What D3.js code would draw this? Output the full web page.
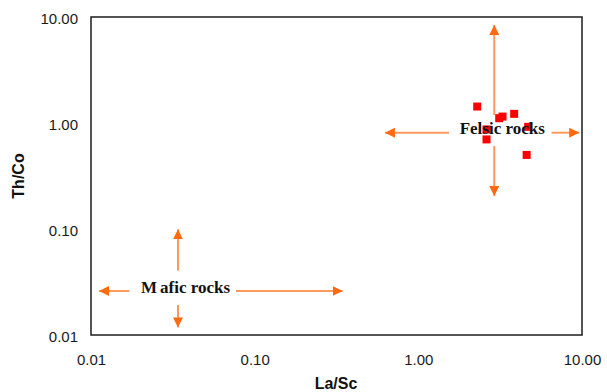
<!DOCTYPE html>
<html>
<head>
<meta charset="utf-8">
<script src="https://cdn.jsdelivr.net/npm/d3@7"></script>
<style>
  html, body { margin: 0; padding: 0; background: #fff; }
  svg { display: block; }
</style>
</head>
<body>
<svg id="chart" width="607" height="392"></svg>
<script>
// ---- data ----
const laSc = [2.29, 3.27, 3.12, 3.85, 2.61, 2.61, 4.59, 4.69];
const thCo = [1.43, 1.15, 1.11, 1.22, 0.87, 0.70, 0.50, 0.92];
const tickValues = [0.01, 0.1, 1, 10];
const tickLabels = ["0.01", "0.10", "1.00", "10.00"];
const fieldLabels = ["Felsic rocks", "Mafic rocks"];
const fieldCentres = [[2.91, 0.81], [0.034, 0.026]];
// arrows [x1, y1, x2(tip), y2(tip)] in data units
const felsicArrows = [
  [2.91, 1.19, 2.91, 8.4],
  [2.91, 0.607, 2.91, 0.205],
  [1.54, 0.81, 0.625, 0.81],
  [6.52, 0.81, 9.61, 0.81]
];
const maficArrows = [
  [0.034, 0.0405, 0.034, 0.0993],
  [0.034, 0.0192, 0.034, 0.0118],
  [0.01714, 0.026, 0.0112, 0.026],
  [0.0769, 0.026, 0.345, 0.026]
];

// ---- layout ----
const svg = d3.select("#chart");
const L = 91, R = 582, T = 17, B = 335;
const x = d3.scaleLog().domain([0.01, 10]).range([L, R]);
const y = d3.scaleLog().domain([0.01, 10]).range([B, T]);

const fmt = d => tickLabels[tickValues.indexOf(d)];

// axes (labels only)
const xAxis = d3.axisBottom(x).tickValues(tickValues).tickFormat(fmt).tickSize(0).tickPadding(0);
const gx = svg.append("g").attr("transform", `translate(0,${B + 19})`).call(xAxis);
gx.select(".domain").remove();
gx.selectAll("text").attr("font-family", "Liberation Sans, Arial, sans-serif")
  .attr("font-size", 15).attr("fill", "#1a1a1a").attr("dy", "0.71em");

const yAxis = d3.axisLeft(y).tickValues(tickValues).tickFormat(fmt).tickSize(0).tickPadding(0);
const gy = svg.append("g").attr("transform", `translate(${L - 13},2)`).call(yAxis);
gy.select(".domain").remove();
gy.selectAll("text").attr("font-family", "Liberation Sans, Arial, sans-serif")
  .attr("font-size", 15).attr("fill", "#1a1a1a");

// axis titles
svg.append("text").attr("x", 336).attr("y", 389).attr("text-anchor", "middle")
  .attr("font-family", "Liberation Sans, Arial, sans-serif").attr("font-weight", "bold")
  .attr("font-size", 16).attr("fill", "#111").text("La/Sc");
svg.append("text").attr("transform", "translate(24,176) rotate(-90)").attr("text-anchor", "middle")
  .attr("font-family", "Liberation Sans, Arial, sans-serif").attr("font-weight", "bold")
  .attr("font-size", 16).attr("fill", "#111").text("Th/Co");

// frame
svg.append("rect").attr("x", L).attr("y", T).attr("width", R - L).attr("height", B - T)
  .attr("fill", "none").attr("stroke", "#2a2a2a").attr("stroke-width", 1.6);

// arrowhead
svg.append("defs").append("marker").attr("id", "ah")
  .attr("viewBox", "0 0 10 10").attr("refX", 10).attr("refY", 5)
  .attr("markerWidth", 10).attr("markerHeight", 10).attr("markerUnits", "userSpaceOnUse")
  .attr("orient", "auto")
  .append("path").attr("d", "M0,0 L10,5 L0,10 Z").attr("fill", "#ff6a10");

const arrows = felsicArrows.concat(maficArrows);
svg.append("g").selectAll("line").data(arrows).join("line")
  .attr("x1", d => x(d[0])).attr("y1", d => y(d[1]))
  .attr("x2", d => x(d[2])).attr("y2", d => y(d[3]))
  .attr("stroke", "#ff9a5c").attr("stroke-width", 2)
  .attr("marker-end", "url(#ah)");

// points
svg.append("g").selectAll("rect").data(laSc).join("rect")
  .attr("x", (d, i) => x(d) - 4).attr("y", (d, i) => y(thCo[i]) - 4)
  .attr("width", 8).attr("height", 8).attr("fill", "#ff0000");

// field labels
const lab = svg.append("g").attr("font-family", "Liberation Serif, Times New Roman, serif")
  .attr("font-size", 17).attr("font-weight", "bold").attr("fill", "#111");
lab.append("text").attr("x", x(fieldCentres[0][0]) + 8).attr("y", y(fieldCentres[0][1]) + 1)
  .attr("text-anchor", "middle")
  .text(fieldLabels[0]);
const mt = lab.append("text").attr("x", 141).attr("y", y(fieldCentres[1][1]) + 2);
mt.append("tspan").text(fieldLabels[1].slice(0, 1));
mt.append("tspan").attr("dx", 3).text(fieldLabels[1].slice(1));
</script>
</body>
</html>
